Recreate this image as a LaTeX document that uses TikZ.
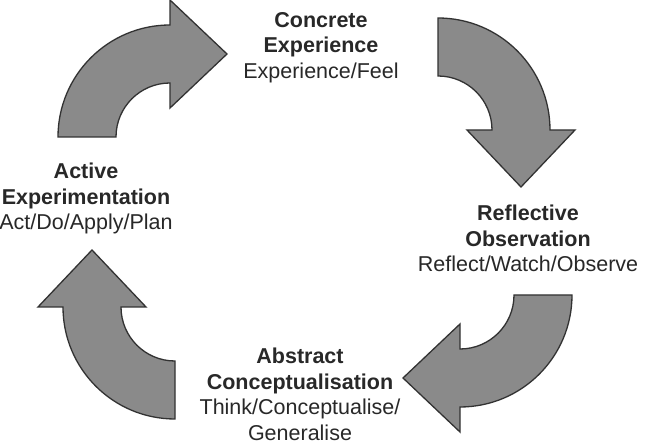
\documentclass[tikz,border=0pt]{standalone}
\usepackage{fontspec}
\setmainfont{Liberation Sans}
\begin{document}
\begin{tikzpicture}[x=1pt,y=1pt,
  cyclearrow/.style={fill=arrowgray,draw=arrowline,line width=1.3pt,line join=miter},
  stagelabel/.style={align=center,inner sep=0pt,anchor=north,text=textgray,
    font=\fontsize{21.5}{25.5}\selectfont},
  cyc/.pic={\path[cyclearrow] (-112,0) arc[start angle=180,end angle=90,radius=112]
      -- (0,137) -- (57,83) -- (0,29) -- (0,54)
      arc[start angle=90,end angle=180,radius=54] -- cycle;}]
\definecolor{arrowgray}{RGB}{138,138,138}
\definecolor{arrowline}{RGB}{50,50,50}
\definecolor{textgray}{RGB}{40,40,40}
\useasboundingbox[fill=white] (0,0) rectangle (651,446);
% arrows
\pic at (170,309) {cyc};
\pic[rotate=-90] at (438,316) {cyc};
\pic[rotate=180] at (460,151) {cyc};
\pic[rotate=90] at (175,139) {cyc};
% labels
\node[stagelabel] (ce) at (321,434) {\textbf{Concrete}\\\textbf{Experience}\\Experience/Feel};
\node[stagelabel] (ro) at (528,241) {\textbf{Reflective}\\\textbf{Observation}\\Reflect/Watch/Observe};
\node[stagelabel] (ac) at (300,98) {\textbf{Abstract}\\\textbf{Conceptualisation}\\Think/Conceptualise/\\Generalise};
\node[stagelabel] (ae) at (86,283) {\textbf{Active}\\\textbf{Experimentation}\\Act/Do/Apply/Plan};
\end{tikzpicture}
\end{document}
